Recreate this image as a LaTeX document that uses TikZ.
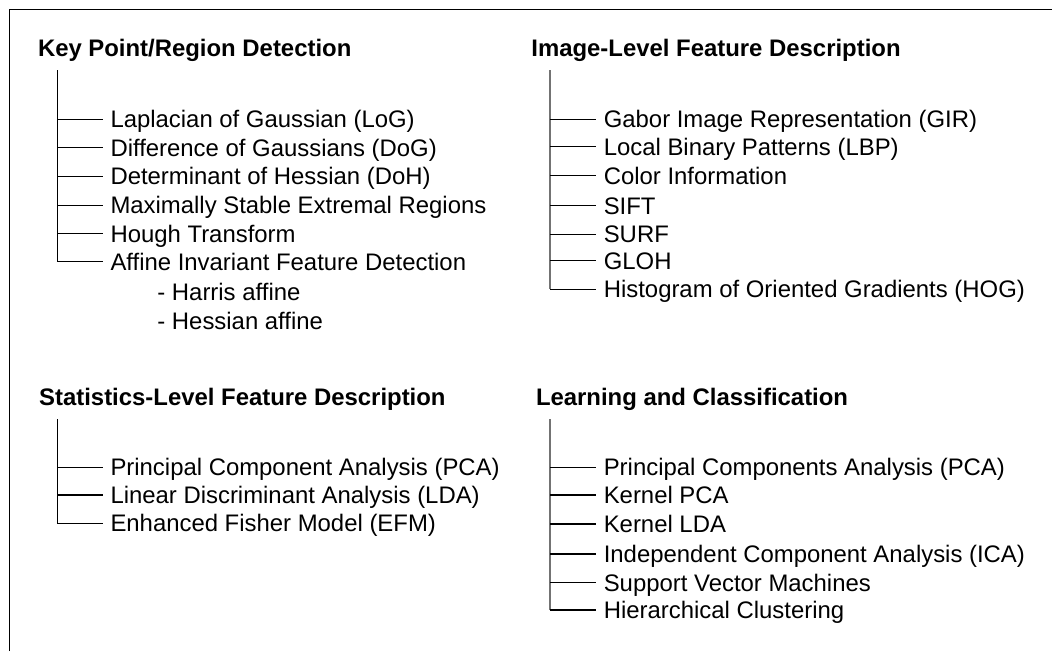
\documentclass[tikz,border=0pt]{standalone}
\usepackage{fontspec}
\setmainfont{Liberation Sans}
\begin{document}
\begin{tikzpicture}[x=1pt,y=-1pt,
  frame/.style={line width=1.1pt,black},
  trunk/.style={line width=1.1pt,black},
  graytrunk/.style={line width=1.8pt,black!55},
  twig/.style={line width=1.1pt,black},
  heading/.style={font=\fontsize{23.9}{28}\selectfont\bfseries,anchor=west,
    inner sep=0pt,text height=17.1pt,text depth=0pt},
  leaf/.style={font=\fontsize{23.9}{28}\selectfont,anchor=west,
    inner ysep=0pt,inner xsep=7.6pt,text height=17.1pt,text depth=0pt},
  sub/.style={font=\fontsize{23.9}{28}\selectfont,anchor=west,
    inner sep=0pt,text height=17.1pt,text depth=0pt}]
\useasboundingbox (0,0) rectangle (1052,651);

% open frame: top and left edges only
\coordinate (fbl) at (9.3,651);
\coordinate (ftl) at (9.3,9.3);
\coordinate (ftr) at (1052,9.3);
\draw[frame] (fbl) -- (ftl) -- (ftr);

% ---- Key point / region detection ----
\node[heading] (h1) at (37.8,48) {Key Point/Region Detection};
\coordinate (t1) at (57.3,70);
\node[leaf] (a1) at (102.7,119.3) {Laplacian of Gaussian (LoG)};
\node[leaf] (a2) at (102.7,147.8) {Difference of Gaussians (DoG)};
\node[leaf] (a3) at (102.7,176.3) {Determinant of Hessian (DoH)};
\node[leaf] (a4) at (102.7,205.2) {Maximally Stable Extremal Regions};
\node[leaf] (a5) at (102.7,233.8) {Hough Transform};
\node[leaf] (a6) at (102.7,261.5) {Affine Invariant Feature Detection};
\node[sub] (a6a) at (157.2,292.3) {- Harris affine};
\node[sub] (a6b) at (157.2,321.3) {- Hessian affine};
\draw[trunk] (t1) -- (t1 |- a6.west) -- (a6.west);
\foreach \n in {a1,a2,a3,a4,a5}
  \draw[twig] (t1 |- \n.west) -- (\n.west);

% ---- Image-level feature description ----
\node[heading] (h2) at (531.2,48) {Image-Level Feature Description};
\coordinate (t2) at (550,70);
\node[leaf] (b1) at (596,119.3) {Gabor Image Representation (GIR)};
\node[leaf] (b2) at (596,146.8) {Local Binary Patterns (LBP)};
\node[leaf] (b3) at (596,175.7) {Color Information};
\node[leaf] (b4) at (596,205.5) {SIFT};
\node[leaf] (b5) at (596,234.3) {SURF};
\node[leaf] (b6) at (596,260.7) {GLOH};
\node[leaf] (b7) at (596,289.3) {Histogram of Oriented Gradients (HOG)};
\draw[graytrunk] (t2) -- (t2 |- b7.west);
\foreach \n in {b1,b2,b3,b4,b5,b6,b7}
  \draw[twig] (t2 |- \n.west) -- (\n.west);

% ---- Statistics-level feature description ----
\node[heading] (h3) at (39,396.7) {Statistics-Level Feature Description};
\coordinate (t3) at (57.3,419.3);
\node[leaf] (c1) at (102.7,467.3) {Principal Component Analysis (PCA)};
\node[leaf] (c2) at (102.7,495) {Linear Discriminant Analysis (LDA)};
\node[leaf] (c3) at (102.7,523.3) {Enhanced Fisher Model (EFM)};
\draw[trunk] (t3) -- (t3 |- c3.west) -- (c3.west);
\foreach \n in {c1,c2}
  \draw[twig] (t3 |- \n.west) -- (\n.west);

% ---- Learning and classification ----
\node[heading] (h4) at (535.8,396.7) {Learning and Classification};
\coordinate (t4) at (550,419.3);
\node[leaf] (d1) at (596,467.3) {Principal Components Analysis (PCA)};
\node[leaf] (d2) at (596,495) {Kernel PCA};
\node[leaf] (d3) at (596,524) {Kernel LDA};
\node[leaf] (d4) at (596,554) {Independent Component Analysis (ICA)};
\node[leaf] (d5) at (596,582.7) {Support Vector Machines};
\node[leaf] (d6) at (596,610) {Hierarchical Clustering};
\draw[graytrunk] (t4) -- (t4 |- d6.west);
\foreach \n in {d1,d2,d3,d4,d5,d6}
  \draw[twig] (t4 |- \n.west) -- (\n.west);
\end{tikzpicture}
\end{document}
